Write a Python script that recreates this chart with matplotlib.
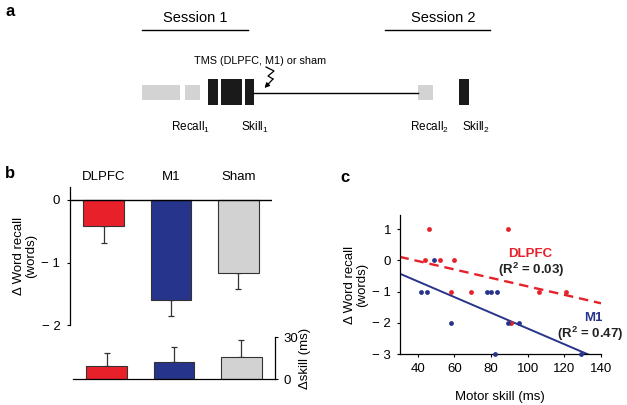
import matplotlib
matplotlib.use("Agg")
import matplotlib.pyplot as plt
import numpy as np

plt.rcParams['font.family'] = ['Liberation Sans', 'DejaVu Sans']
plt.rcParams['mathtext.fontset'] = 'custom'
plt.rcParams['mathtext.rm'] = 'Liberation Sans'
plt.rcParams['mathtext.it'] = 'Liberation Sans:italic'
plt.rcParams['mathtext.bf'] = 'Liberation Sans:bold'

W, H = 627, 405

# ---------------- data ----------------
groups = ["DLPFC", "M1", "Sham"]
recall_mean = [-0.42, -1.60, -1.17]
recall_sem = [0.27, 0.25, 0.25]
skill_mean = [9.5, 11.9, 15.7]
skill_sem = [9.1, 11.1, 11.9]
bar_colors = ["#e8202a", "#27348b", "#d2d2d2"]

dlpfc_x = [44, 46, 52, 58, 60, 69, 89, 91, 106, 121]
dlpfc_y = [0, 1, 0, -1, 0, -1, 1, -2, -1, -1]
m1_x = [42, 45, 49, 58, 78, 80, 82, 83, 89, 95, 129]
m1_y = [-1, -1, 0, -2, -1, -1, -3, -1, -2, -2, -3]
# regression lines (intercept, slope)
dlpfc_fit = [0.52, -0.0135]
m1_fit = [0.333, -0.0251]
fit_x = [30, 140]

session_labels = ["Session 1", "Session 2"]
timeline_labels = ["Recall$_1$", "Skill$_1$", "Recall$_2$", "Skill$_2$"]
tms_label = "TMS (DLPFC, M1) or sham"


def px_axes(fig, x0, y0, x1, y1):
    return fig.add_axes([x0 / W, 1 - y1 / H, (x1 - x0) / W, (y1 - y0) / H])


fig = plt.figure(figsize=(W / 100, H / 100), dpi=100)

# ---------------- panel a (schematic) ----------------
axa = px_axes(fig, 0, 0, W, H)
axa.set_xlim(0, W)
axa.set_ylim(H, 0)
axa.axis("off")
axa.patch.set_alpha(0)

axa.text(10, 11, "a", fontsize=12, fontweight="bold", ha="center", va="center")
for lab, cx, (lx0, lx1) in zip(session_labels, [195, 443], [(142, 248), (385, 490)]):
    axa.text(cx, 18, lab, fontsize=10.5, ha="center", va="center")
    axa.plot([lx0, lx1], [30, 30], color="black", lw=1)

axa.text(260, 61, tms_label, fontsize=7.8, ha="center", va="center")

blocks = [(142, 38, "g"), (185, 15, "g"), (208, 10, "k"), (221, 21, "k"),
          (245, 9, "k"), (418, 15, "g"), (459, 10, "k")]
for x0, w, kind in blocks:
    if kind == "g":
        axa.add_patch(plt.Rectangle((x0, 85), w, 15, color="#d3d3d3", lw=0))
    else:
        axa.add_patch(plt.Rectangle((x0, 79), w, 26, color="#1a1a1a", lw=0))
axa.plot([254, 418], [92.5, 92.5], color="black", lw=1)

zz_x = [266, 274, 268, 273]
zz_y = [67, 71, 76, 79]
axa.plot(zz_x, zz_y, color="black", lw=0.9)
axa.annotate("", xy=(264.5, 88), xytext=(273, 79),
             arrowprops=dict(arrowstyle="-|>", color="black", lw=0.9,
                             mutation_scale=7, shrinkA=0, shrinkB=0))

for lab, cx in zip(timeline_labels, [191, 255, 430, 476]):
    axa.text(cx, 127, lab, fontsize=8.5, ha="center", va="center")

# ---------------- panel b main ----------------
xpos = np.arange(len(groups))
axb = px_axes(fig, 70, 187, 272, 325)
axb.bar(xpos, recall_mean, width=0.6, color=bar_colors, edgecolor="#333333", lw=0.8, zorder=2)
axb.errorbar(xpos, recall_mean, yerr=[recall_sem, [0] * 3], fmt="none",
             ecolor="#333333", elinewidth=0.9, capsize=2, capthick=0.9, zorder=1)
axb.axhline(0, color="black", lw=1, zorder=3)
axb.set_xlim(-0.5, 2.5)
axb.set_ylim(-2, 0.208)
for s in ["top", "right", "bottom"]:
    axb.spines[s].set_visible(False)
axb.spines["left"].set_linewidth(0.9)
axb.set_yticks([0, -1, -2])
axb.set_yticklabels(["0", "\u2212 1", "\u2212 2"], fontsize=9.5)
axb.tick_params(axis="y", length=2, width=0.8, pad=5)
axb.xaxis.tick_top()
axb.set_xticks(xpos)
axb.set_xticklabels(groups, fontsize=9.5)
axb.tick_params(axis="x", length=0, pad=3)
axb.set_ylabel("\u0394 Word recall\n(words)", fontsize=9.5, labelpad=3, linespacing=1.0)
axb.patch.set_alpha(0)
fig.text(10 / W, 1 - 173 / H, "b", fontsize=12, fontweight="bold", ha="center", va="center")

# ---------------- panel b inset ----------------
axs = px_axes(fig, 73, 337, 275, 379)
axs.bar(xpos, skill_mean, width=0.6, color=bar_colors, edgecolor="#333333", lw=0.8, zorder=2)
axs.errorbar(xpos, skill_mean, yerr=[[0] * 3, skill_sem], fmt="none",
             ecolor="#333333", elinewidth=0.9, capsize=2, capthick=0.9, zorder=1)
axs.set_xlim(-0.5, 2.5)
axs.set_ylim(0, 30)
for s in ["top", "left"]:
    axs.spines[s].set_visible(False)
axs.spines["right"].set_linewidth(0.9)
axs.spines["bottom"].set_linewidth(0.9)
axs.yaxis.tick_right()
axs.set_yticks([0, 30])
axs.set_yticklabels(["0", "30"], fontsize=9.5)
axs.tick_params(axis="y", length=2, width=0.8, pad=4)
axs.set_xticks([])
axs.yaxis.set_label_position("right")
axs.set_ylabel("\u0394skill (ms)", fontsize=9.5, labelpad=1)
axs.patch.set_alpha(0)

# ---------------- panel c ----------------
axc = px_axes(fig, 399.5, 215, 601, 354.3)
fx = np.array(fit_x, dtype=float)
axc.plot(fx, dlpfc_fit[0] + dlpfc_fit[1] * fx, color="#e8202a", lw=1.7,
         ls=(0, (4, 2.5)), zorder=2)
axc.plot(fx, m1_fit[0] + m1_fit[1] * fx, color="#27348b", lw=1.4, zorder=2)
axc.scatter(dlpfc_x, dlpfc_y, s=12, color="#e8202a", zorder=3, clip_on=False, lw=0)
axc.scatter(m1_x, m1_y, s=12, color="#27348b", zorder=4, clip_on=False, lw=0)
axc.set_xlim(30, 140)
axc.set_ylim(-3, 1.45)
for s in ["top", "right"]:
    axc.spines[s].set_visible(False)
axc.spines["left"].set_linewidth(0.9)
axc.spines["bottom"].set_linewidth(0.9)
axc.set_xticks([40, 60, 80, 100, 120, 140])
axc.set_xticklabels(["40", "60", "80", "100", "120", "140"], fontsize=9.5)
axc.set_yticks([1, 0, -1, -2, -3])
axc.set_yticklabels(["1", "0", "\u2212 1", "\u2212 2", "\u2212 3"], fontsize=9.5)
axc.tick_params(length=2, width=0.8, pad=4)
axc.set_xlabel("Motor skill (ms)", fontsize=9.5, labelpad=12)
axc.set_ylabel("\u0394 Word recall\n(words)", fontsize=9.5, labelpad=3, linespacing=1.0)
axc.patch.set_alpha(0)
fig.text(345 / W, 1 - 177 / H, "c", fontsize=12, fontweight="bold", ha="center", va="center")

fig.text(530 / W, 1 - 254 / H, "DLPFC", fontsize=9.5, fontweight="bold",
         color="#e8202a", ha="center", va="center")
fig.text(531 / W, 1 - 270 / H, "(R$^\\mathbf{2}$ = 0.03)", fontsize=9.5, fontweight="bold",
         color="#222222", ha="center", va="center")
fig.text(593 / W, 1 - 318 / H, "M1", fontsize=9.5, fontweight="bold",
         color="#27348b", ha="center", va="center")
fig.text(590 / W, 1 - 334 / H, "(R$^\\mathbf{2}$ = 0.47)", fontsize=9.5, fontweight="bold",
         color="#222222", ha="center", va="center")

fig.savefig("out.png", dpi=100)
